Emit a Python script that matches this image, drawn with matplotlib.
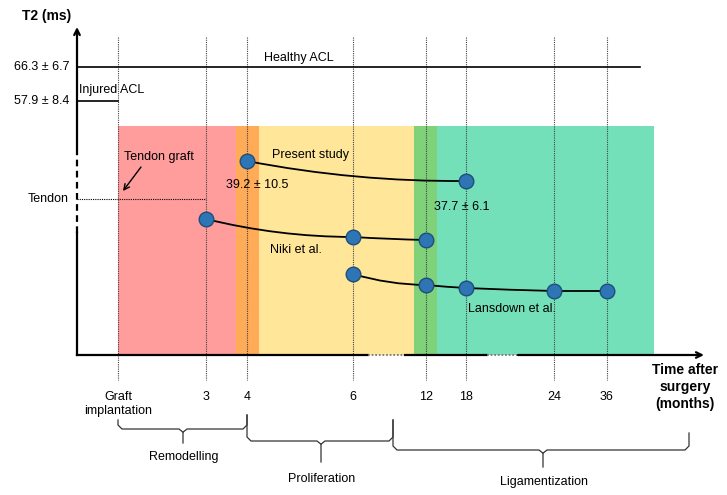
import matplotlib
matplotlib.use("Agg")
import matplotlib.pyplot as plt

plt.rcParams['font.family'] = ['Liberation Sans', 'DejaVu Sans']

# schematic layout units (not to scale): x = time position, y = T2 level (top = high)
time_labels = ['Graft\nimplantation', '3', '4', '6', '12', '18', '24', '36']
time_pos = [118, 206, 247, 353, 426, 466, 554, 607]
pos = dict(zip(time_labels, time_pos))
pos['Graft'] = pos['Graft\nimplantation']

# healing phases (colour bands)
phase_edges = [118, 236, 259, 414, 437, 654]
phase_colors = ['#ff9c9c', '#ffab58', '#ffe699', '#7fd17a', '#73e0ba']
band_top, band_bottom = 126, 355

# T2 series (schematic levels)
present_t = ['4', '18']
present_y = [161, 181]
niki_t = ['3', '6', '12']
niki_y = [219, 237, 240]
lansdown_t = ['6', '12', '18', '24', '36']
lansdown_y = [274, 285, 288, 291, 291]

# reference levels
healthy_y, injured_y, tendon_y = 67, 101, 199
ref_labels = ['66.3 \u00b1 6.7', '57.9 \u00b1 8.4', 'Tendon']

# phase braces: (left, right, left top, right top, horizontal, tip x, tip y, label y, name)
braces = [
    (118, 247, 420, 415, 429, 183, 443, 457, 'Remodelling'),
    (247, 393, 415, 420, 441, 321, 462, 479, 'Proliferation'),
    (393, 689, 420, 433, 450, 543, 467, 482, 'Ligamentization'),
]

fig = plt.figure(figsize=(7.27, 4.95), dpi=100)
ax = fig.add_axes([0, 0, 1, 1])
ax.set_xlim(0, 727)
ax.set_ylim(495, 0)
ax.axis('off')

FS = 9
x0, y0 = 77, 355  # axes origin

# colour bands
for i, c in enumerate(phase_colors):
    ax.bar(phase_edges[i], band_bottom - band_top, width=phase_edges[i + 1] - phase_edges[i],
           bottom=band_top, align='edge', color=c, lw=0, zorder=1)

# vertical dotted time lines
for x in time_pos:
    ax.plot([x, x], [37, 380], color='#444444', ls=(0, (1, 1)), lw=0.8, zorder=2)

# y axis: solid / dashed / solid with arrow
ax.plot([x0, x0], [y0, 233], color='black', lw=1.6, zorder=3)
ax.plot([x0, x0], [233, 152], color='black', lw=1.6, ls=(0, (3, 2)), zorder=3)
ax.annotate('', xy=(x0, 27), xytext=(x0, 152),
            arrowprops=dict(arrowstyle='->', lw=1.6, color='black', shrinkA=0, shrinkB=0), zorder=3)

# x axis with broken (dotted) parts
ax.plot([x0, 368], [y0, y0], color='black', lw=1.6, zorder=3)
ax.plot([368, 405], [y0, y0], color='#777777', lw=1.3, ls=(0, (1, 1)), zorder=3)
ax.plot([405, 487], [y0, y0], color='black', lw=1.6, zorder=3)
ax.plot([487, 518], [y0, y0], color='#777777', lw=1.3, ls=(0, (1, 1)), zorder=3)
ax.annotate('', xy=(704, y0), xytext=(518, y0),
            arrowprops=dict(arrowstyle='->', lw=1.6, color='black', shrinkA=0, shrinkB=0), zorder=3)

# reference lines
ax.plot([x0, 640], [healthy_y, healthy_y], color='black', lw=1.2, zorder=3)
ax.plot([x0, pos['Graft']], [injured_y, injured_y], color='black', lw=1.2, zorder=3)
ax.plot([x0, pos['3']], [tendon_y, tendon_y], color='black', lw=0.8, ls=(0, (1, 1)), zorder=3)
for lab, y in zip(ref_labels, [healthy_y, injured_y, tendon_y]):
    ax.text(69, y, lab, ha='right', va='center', fontsize=FS)
ax.text(299, 58, 'Healthy ACL', ha='center', va='center', fontsize=FS)
ax.text(79, 90, 'Injured ACL', ha='left', va='center', fontsize=FS)

# axis titles
ax.text(47, 16, 'T2 (ms)', ha='center', va='center', fontsize=10, fontweight='bold')
ax.text(685, 387, 'Time after\nsurgery\n(months)', ha='center', va='center',
        fontsize=10, fontweight='bold', linespacing=1.25)

# tick labels
for lab, x in zip(time_labels, time_pos):
    ax.text(x, 397 if '\n' not in lab else 404, lab, ha='center', va='center',
            fontsize=FS, linespacing=1.2)


def draw_series(ts, ys, rads):
    xs = [pos[t] for t in ts]
    for i in range(len(xs) - 1):
        ax.annotate('', xy=(xs[i + 1], ys[i + 1]), xytext=(xs[i], ys[i]),
                    arrowprops=dict(arrowstyle='-', lw=1.3, color='black',
                                    shrinkA=0, shrinkB=0,
                                    connectionstyle='arc3,rad=%.3f' % rads[i]), zorder=4)
    ax.plot(xs, ys, 'o', ms=10.5, mfc='#2e75b6', mec='#1f4e79', mew=1.0, ls='none', zorder=5)


draw_series(present_t, present_y, [0.05])
draw_series(niki_t, niki_y, [0.06, 0.01])
draw_series(lansdown_t, lansdown_y, [0.07, 0.01, 0.005, 0.0])

# series labels
ax.text(272, 155, 'Present study', ha='left', va='center', fontsize=FS)
ax.text(226, 185, '39.2 \u00b1 10.5', ha='left', va='center', fontsize=FS)
ax.text(434, 207, '37.7 \u00b1 6.1', ha='left', va='center', fontsize=FS)
ax.text(270, 250, 'Niki et al.', ha='left', va='center', fontsize=FS)
ax.text(468, 309, 'Lansdown et al.', ha='left', va='center', fontsize=FS)
ax.text(124, 157, 'Tendon graft', ha='left', va='center', fontsize=FS)
ax.annotate('', xy=(123, 191), xytext=(141, 167),
            arrowprops=dict(arrowstyle='->', lw=1.0, color='black', shrinkA=0, shrinkB=0))

# phase braces
for xl, xr, ytl, ytr, yh, xc, ytip, ylab, name in braces:
    r = 4
    bx = [xl, xl, xl + r, xc - r, xc, xc, xc, xc + r, xr - r, xr, xr]
    by = [ytl, yh - r, yh, yh, yh + r * 0.8, ytip, yh + r * 0.8, yh, yh, yh - r, ytr]
    ax.plot(bx[:6], by[:6], color='#333333', lw=0.9)
    ax.plot(bx[6:], by[6:], color='#333333', lw=0.9)
    ax.text(xc + 1, ylab, name, ha='center', va='center', fontsize=FS)

fig.savefig('out.png', dpi=100)
